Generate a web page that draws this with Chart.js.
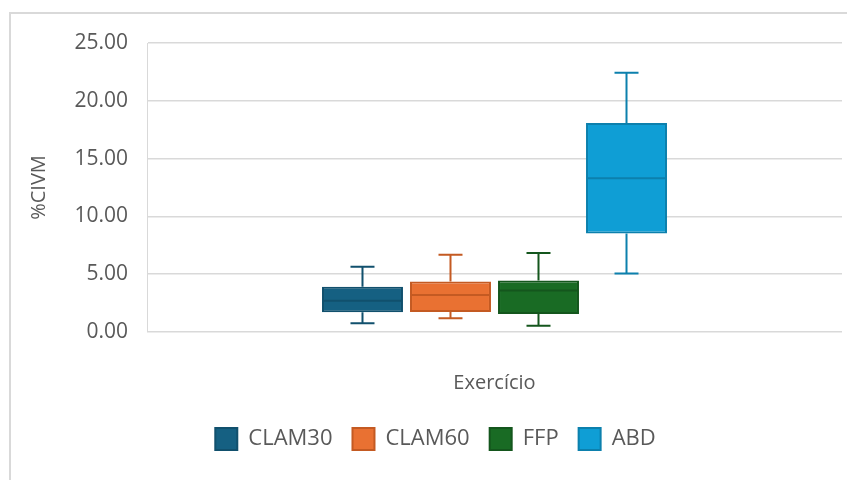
<!DOCTYPE html>
<html>
<head>
<meta charset="utf-8">
<script src="https://cdn.jsdelivr.net/npm/chart.js@4/dist/chart.umd.min.js"></script>
<style>
  html, body { margin: 0; padding: 0; background: #ffffff; overflow: hidden; }
  #frame { position: absolute; left: 9px; top: 12px; width: 900px; height: 520px;
           border-left: 2px solid #d9d9d9; border-top: 2px solid #d9d9d9; }
  #wrap { position: absolute; left: 0; top: 0; width: 847px; height: 480px; }
</style>
</head>
<body>
<div id="frame"></div>
<div id="wrap"><canvas id="c" width="847" height="480"></canvas></div>
<script>
// Box-and-whisker summary per exercise group (%CIVM)
const categories = ['Exercício'];
const seriesNames = ['CLAM30', 'CLAM60', 'FFP', 'ABD'];
const minValues    = [0.76, 1.19, 0.55, 5.06];
const q1Values     = [1.70, 1.74, 1.56, 8.53];
const medianValues = [2.70, 3.19, 3.59, 13.31];
const q3Values     = [3.91, 4.37, 4.45, 18.08];
const maxValues    = [5.64, 6.68, 6.83, 22.42];
const yTicks = [0, 5, 10, 15, 20, 25];

const fillColors   = ['#156082', '#e97132', '#196b24', '#0f9ed5'];
const strokeColors = ['#11506d', '#c45a22', '#14561d', '#0c80ad'];

const textColor = '#595959';
const fontFamily = "'Open Sans', 'Noto Sans', sans-serif";

const datasets = seriesNames.map((name, i) => ({
  label: name,
  data: [[q1Values[i], q3Values[i]]],
  backgroundColor: fillColors[i],
  borderColor: strokeColors[i],
  borderWidth: 2,
  borderSkipped: false,
  categoryPercentage: 0.5065,
  barPercentage: 0.92
}));

// Whiskers, caps and median line for each box
const whiskerPlugin = {
  id: 'whiskers',
  afterDatasetsDraw(chart) {
    const ctx = chart.ctx;
    const ys = chart.scales.y;
    chart.data.datasets.forEach((ds, i) => {
      const meta = chart.getDatasetMeta(i);
      if (meta.hidden) return;
      const bar = meta.data[0];
      const cx = bar.x;
      const half = bar.width / 2;
      const cap = 12;
      const yMin = ys.getPixelForValue(minValues[i]);
      const yQ1 = ys.getPixelForValue(q1Values[i]);
      const yMed = ys.getPixelForValue(medianValues[i]);
      const yQ3 = ys.getPixelForValue(q3Values[i]);
      const yMax = ys.getPixelForValue(maxValues[i]);
      ctx.save();
      ctx.strokeStyle = ds.borderColor;
      ctx.lineWidth = 2;
      ctx.beginPath();
      ctx.moveTo(cx, yQ3); ctx.lineTo(cx, yMax);
      ctx.moveTo(cx - cap, yMax); ctx.lineTo(cx + cap, yMax);
      ctx.moveTo(cx, yQ1); ctx.lineTo(cx, yMin);
      ctx.moveTo(cx - cap, yMin); ctx.lineTo(cx + cap, yMin);
      ctx.moveTo(cx - half + 1, yMed); ctx.lineTo(cx + half - 1, yMed);
      ctx.stroke();
      ctx.restore();
    });
  }
};

new Chart(document.getElementById('c'), {
  type: 'bar',
  data: { labels: categories, datasets: datasets },
  plugins: [whiskerPlugin],
  options: {
    responsive: false,
    animation: false,
    layout: { padding: { left: 29, right: 5, top: 43, bottom: 20 } },
    plugins: {
      tooltip: { enabled: false },
      legend: {
        position: 'bottom',
        labels: {
          boxWidth: 22,
          boxHeight: 22,
          padding: 20,
          color: textColor,
          font: { family: fontFamily, size: 22 }
        }
      }
    },
    scales: {
      x: {
        grid: { display: false },
        border: { display: false },
        ticks: { display: false },
        title: {
          display: true,
          text: 'Exercício',
          color: textColor,
          font: { family: fontFamily, size: 20 },
          padding: { top: 0, bottom: 13 }
        },
        afterFit(scale) { scale.height = 76; }
      },
      y: {
        min: 0,
        max: 25,
        afterBuildTicks(scale) { scale.ticks = yTicks.map(v => ({ value: v })); },
        ticks: {
          padding: 19,
          color: textColor,
          font: { family: fontFamily, size: 21 },
          callback: v => Number(v).toFixed(2)
        },
        grid: { color: '#d9d9d9', lineWidth: 1.5, drawTicks: false },
        border: { display: true, color: '#d9d9d9', width: 1 },
        title: {
          display: true,
          text: '%CIVM',
          color: textColor,
          font: { family: fontFamily, size: 20, lineHeight: 1 },
          padding: { top: 0, bottom: 0 }
        },
        afterFit(scale) { scale.width = 118; }
      }
    }
  }
});
</script>
</body>
</html>
